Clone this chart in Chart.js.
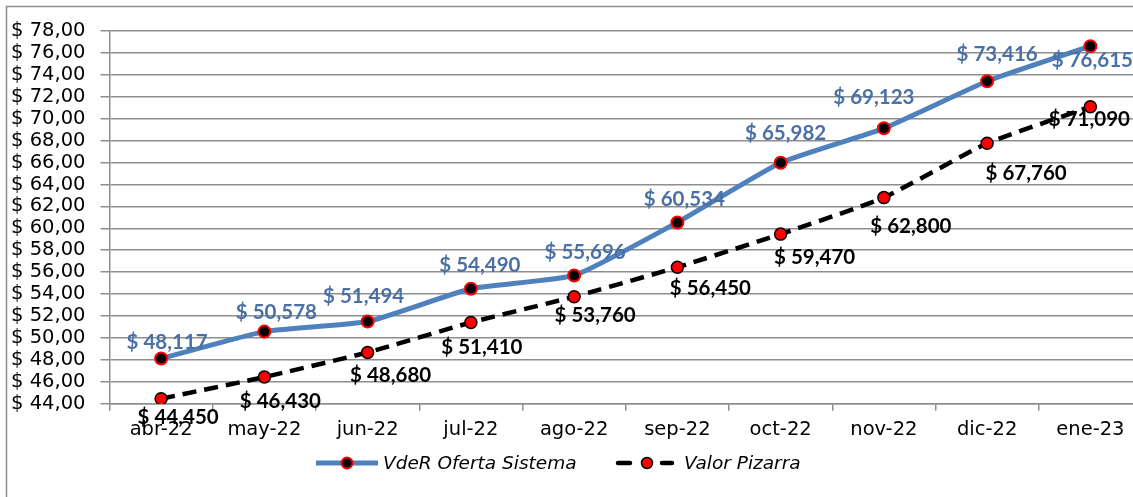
<!DOCTYPE html>
<html>
<head>
<meta charset="utf-8">
<script src="https://cdn.jsdelivr.net/npm/chart.js@4/dist/chart.umd.min.js"></script>
<style>
  html, body { margin: 0; padding: 0; background: #fff; overflow: hidden; }
  #wrap { width: 1150px; height: 510px; }
</style>
</head>
<body>
<div id="wrap"><canvas id="chart" width="1150" height="510"></canvas></div>
<script>
const months = ['abr-22', 'may-22', 'jun-22', 'jul-22', 'ago-22', 'sep-22', 'oct-22', 'nov-22', 'dic-22', 'ene-23'];
const vderOferta = [48.117, 50.578, 51.494, 54.490, 55.696, 60.534, 65.982, 69.123, 73.416, 76.615];
const valorPizarra = [44.450, 46.430, 48.680, 51.410, 53.760, 56.450, 59.470, 62.800, 67.760, 71.090];
const yMin = 44;
const yMax = 78;
const yStep = 2;

// label nudges relative to each point (pixels)
const blueDx = [6, 12, -4, 9, 11, 7, 5, -10, 10, 2];
const blueDy = [-16, -19, -25, -23, -23, -23, -29, -31, -27, 14];
const blackDx = [17, 16, 23, 11, 21, 33, 34, 27, 39, -1];
const blackDy = [19, 24, 23, 25, 19, 21, 23, 29, 30, 13];

const gridColor = '#8e8e8e';
const blue = '#4f81bd';
const blueText = '#4a70a5';

const fmtLabel = v => '$ ' + v.toFixed(3).replace('.', ',');

const labelsPlugin = {
    id: 'pointLabels',
    afterDatasetsDraw(chart) {
        const ctx = chart.ctx;
        ctx.save();
        ctx.font = 'bold 20.5px Lato';
        ctx.textAlign = 'center';
        ctx.textBaseline = 'middle';
        chart.getDatasetMeta(0).data.forEach((pt, i) => {
            ctx.fillStyle = blueText;
            ctx.fillText(fmtLabel(vderOferta[i]), pt.x + blueDx[i], pt.y + blueDy[i]);
        });
        chart.getDatasetMeta(1).data.forEach((pt, i) => {
            ctx.fillStyle = '#000';
            ctx.fillText(fmtLabel(valorPizarra[i]), pt.x + blackDx[i], pt.y + blackDy[i]);
        });
        ctx.restore();
    },
    afterDraw(chart) {
        const ctx = chart.ctx;
        ctx.save();
        // outer frame
        ctx.strokeStyle = gridColor;
        ctx.lineWidth = 1.5;
        ctx.strokeRect(6.5, 6.5, 1200, 600);

        const ly = 463;
        // legend item 1
        ctx.strokeStyle = blue;
        ctx.lineWidth = 5;
        ctx.beginPath();
        ctx.moveTo(316, ly);
        ctx.lineTo(378, ly);
        ctx.stroke();
        ctx.beginPath();
        ctx.arc(347, ly, 5.5, 0, Math.PI * 2);
        ctx.fillStyle = '#000';
        ctx.fill();
        ctx.strokeStyle = '#ff0000';
        ctx.lineWidth = 2;
        ctx.stroke();

        // legend item 2
        ctx.strokeStyle = '#000';
        ctx.lineWidth = 4.5;
        ctx.lineCap = 'round';
        ctx.beginPath();
        ctx.moveTo(618, ly); ctx.lineTo(630, ly);
        ctx.moveTo(662, ly); ctx.lineTo(672, ly);
        ctx.stroke();
        ctx.beginPath();
        ctx.arc(647, ly, 5.5, 0, Math.PI * 2);
        ctx.fillStyle = '#ff0000';
        ctx.fill();
        ctx.lineWidth = 1.5;
        ctx.strokeStyle = '#000';
        ctx.stroke();

        ctx.fillStyle = '#000';
        ctx.font = 'italic 18.5px "DejaVu Sans"';
        ctx.textAlign = 'left';
        ctx.textBaseline = 'middle';
        ctx.fillText('VdeR Oferta Sistema', 383, ly + 1);
        ctx.fillText('Valor Pizarra', 684, ly + 1);
        ctx.restore();
    }
};

const ctx = document.getElementById('chart').getContext('2d');
new Chart(ctx, {
    type: 'line',
    data: {
        labels: months,
        datasets: [{
            label: 'VdeR Oferta Sistema',
            data: vderOferta,
            borderColor: blue,
            borderWidth: 5,
            tension: 0.15,
            pointRadius: 6,
            pointBackgroundColor: '#000',
            pointBorderColor: '#ff0000',
            pointBorderWidth: 2
        }, {
            label: 'Valor Pizarra',
            data: valorPizarra,
            borderColor: '#000',
            borderWidth: 4.5,
            borderDash: [14, 8],
            tension: 0.15,
            pointRadius: 6,
            pointBackgroundColor: '#ff0000',
            pointBorderColor: '#000',
            pointBorderWidth: 1.5
        }]
    },
    options: {
        responsive: false,
        animation: false,
        layout: { padding: { left: 0, right: 7, top: 31, bottom: 0 } },
        scales: {
            x: {
                offset: true,
                afterFit: s => { s.height = 106.3; },
                grid: {
                    display: true,
                    drawOnChartArea: false,
                    offset: true,
                    tickLength: 7,
                    color: gridColor,
                    lineWidth: 1.5
                },
                border: { color: gridColor, width: 1.5 },
                ticks: {
                    color: '#000',
                    font: { family: 'DejaVu Sans', size: 19.5 },
                    padding: 8,
                    maxRotation: 0,
                    autoSkip: false
                }
            },
            y: {
                min: yMin,
                max: yMax,
                afterFit: s => { s.width = 109.5; },
                grid: {
                    color: gridColor,
                    lineWidth: 1.5,
                    tickLength: 9
                },
                border: { color: gridColor, width: 1.5 },
                ticks: {
                    stepSize: yStep,
                    autoSkip: false,
                    color: '#000',
                    padding: 15,
                    font: { family: 'DejaVu Sans', size: 19.5 },
                    callback: v => '$ ' + v.toFixed(2).replace('.', ',')
                }
            }
        },
        plugins: {
            legend: { display: false },
            tooltip: { enabled: false }
        }
    },
    plugins: [labelsPlugin]
});
</script>
</body>
</html>
